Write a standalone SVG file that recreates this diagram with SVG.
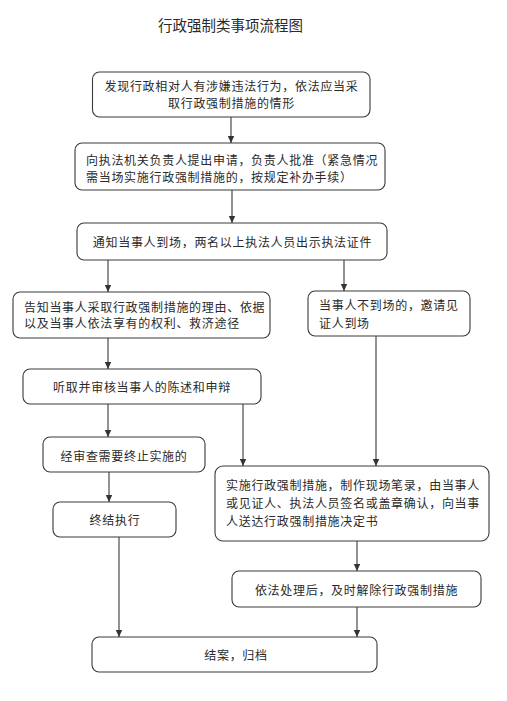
<svg xmlns="http://www.w3.org/2000/svg" width="507" height="701" viewBox="0 0 507 701">
<defs>
<marker id="ah" markerWidth="7" markerHeight="8" refX="7" refY="4" orient="auto" markerUnits="userSpaceOnUse">
<path d="M0,0.8 L7,4 L0,7.2 Z" fill="#333"/>
</marker>
<style>
.box{fill:#fff;stroke:#3a3a3a;stroke-width:1.1}
.t{font-family:"Noto Sans CJK SC","Noto Sans",sans-serif;font-size:12px;letter-spacing:0.7px;fill:#2a2a2a}
.c{text-anchor:middle}
.ttl{font-family:"Noto Sans CJK SC","Noto Sans",sans-serif;font-size:14.5px;fill:#2a2a2a}
.ln{stroke:#3a3a3a;stroke-width:1.1;fill:none}
.ar{marker-end:url(#ah)}
</style>
</defs>
<rect width="507" height="701" fill="#fff"/>
<text class="ttl" x="158" y="30.5">行政强制类事项流程图</text>

<g id="connectors">
<line class="ln ar" x1="231" y1="117" x2="231" y2="143"/>
<line class="ln ar" x1="232" y1="190" x2="232" y2="223"/>
<line class="ln ar" x1="108" y1="260" x2="108" y2="292"/>
<line class="ln ar" x1="344" y1="260" x2="344" y2="291"/>
<line class="ln ar" x1="108" y1="338" x2="108" y2="369"/>
<line class="ln ar" x1="108" y1="404" x2="108" y2="437"/>
<line class="ln ar" x1="243" y1="404" x2="243" y2="466"/>
<line class="ln ar" x1="376" y1="336" x2="376" y2="466"/>
<line class="ln ar" x1="109" y1="472" x2="109" y2="502"/>
<line class="ln ar" x1="357" y1="541" x2="357" y2="571"/>
<line class="ln ar" x1="357" y1="607" x2="357" y2="637"/>
<line class="ln ar" x1="119" y1="537" x2="119" y2="637"/>
</g>

<g id="n1">
<rect class="box" x="92.5" y="72" width="277.5" height="45" rx="7"/>
<text class="t c" x="231.5" y="91">发现行政相对人有涉嫌违法行为，依法应当采</text>
<text class="t c" x="231.5" y="107.5">取行政强制措施的情形</text>
</g>
<g id="n2">
<rect class="box" x="75" y="143" width="310" height="47" rx="7"/>
<text class="t" x="86" y="164.5">向执法机关负责人提出申请，负责人批准（紧急情况</text>
<text class="t" x="86" y="182">需当场实施行政强制措施的，按规定补办手续）</text>
</g>
<g id="n3">
<rect class="box" x="77" y="223" width="310" height="37" rx="7"/>
<text class="t c" x="232.5" y="246.5">通知当事人到场，两名以上执法人员出示执法证件</text>
</g>
<g id="n4">
<rect class="box" x="13" y="292" width="257" height="46" rx="7"/>
<text class="t" x="24" y="311.5">告知当事人采取行政强制措施的理由、依据</text>
<text class="t" x="24" y="328">以及当事人依法享有的权利、救济途径</text>
</g>
<g id="n5">
<rect class="box" x="308" y="291" width="162" height="45" rx="7"/>
<text class="t" x="319" y="309.5">当事人不到场的，邀请见</text>
<text class="t" x="319" y="327.5">证人到场</text>
</g>
<g id="n6">
<rect class="box" x="23" y="369" width="238" height="35" rx="7"/>
<text class="t c" x="142" y="392">听取并审核当事人的陈述和申辩</text>
</g>
<g id="n7">
<rect class="box" x="43" y="437" width="162" height="35" rx="7"/>
<text class="t c" x="124" y="461">经审查需要终止实施的</text>
</g>
<g id="n8">
<rect class="box" x="215" y="466" width="274" height="75" rx="8"/>
<text class="t" x="226" y="489.5">实施行政强制措施，制作现场笔录，由当事人</text>
<text class="t" x="226" y="507.5">或见证人、执法人员签名或盖章确认，向当事</text>
<text class="t" x="226" y="526">人送达行政强制措施决定书</text>
</g>
<g id="n9">
<rect class="box" x="53" y="502" width="123" height="35" rx="7"/>
<text class="t c" x="115" y="525">终结执行</text>
</g>
<g id="n10">
<rect class="box" x="232" y="571" width="249" height="36" rx="7"/>
<text class="t c" x="356.5" y="594.5">依法处理后，及时解除行政强制措施</text>
</g>
<g id="n11">
<rect class="box" x="92" y="637" width="285" height="35" rx="7"/>
<text class="t c" x="236" y="659.5">结案，归档</text>
</g>
</svg>
